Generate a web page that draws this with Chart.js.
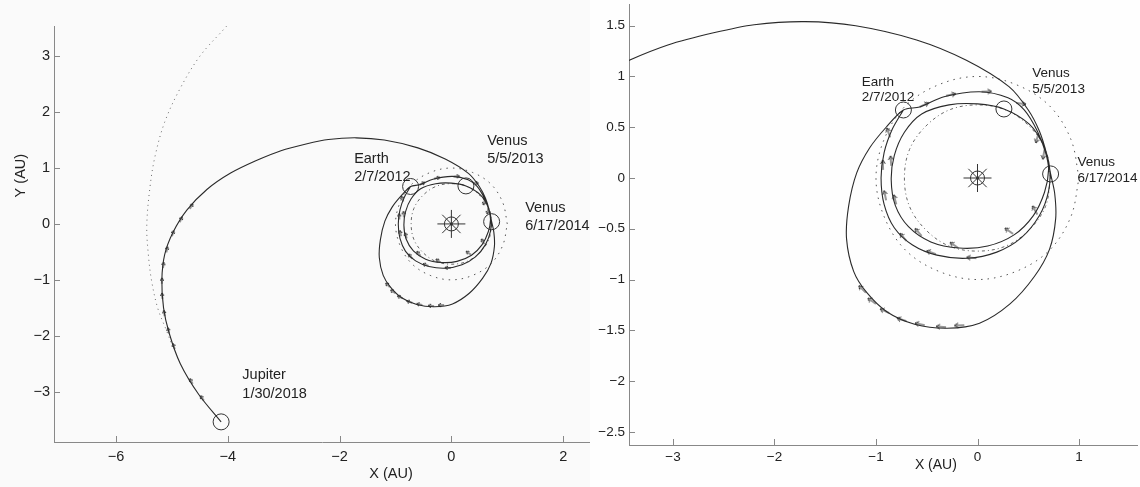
<!DOCTYPE html>
<html>
<head>
<meta charset="utf-8">
<script src="https://cdn.jsdelivr.net/npm/chart.js@4.4.1/dist/chart.umd.min.js"></script>
<style>
  body { margin: 0; background: #fff; }
  #wrap { position: relative; width: 1140px; height: 487px; }
  canvas { position: absolute; top: 0; }
  #full { left: 0; background: #fafafa; }
  #zoom { left: 590px; background: #fefefe; }
</style>
</head>
<body>
<div id="wrap">
  <canvas id="full" width="590" height="487"></canvas>
  <canvas id="zoom" width="550" height="487"></canvas>
</div>
<script>
// heliocentric positions, AU

const earthOrbitX = [1, 0.92, 0.71, 0.38, 0, -0.38, -0.71, -0.92, -1, -0.92, -0.71, -0.38, 0, 0.38, 0.71, 0.92, 1];
const earthOrbitY = [0, 0.38, 0.71, 0.92, 1, 0.92, 0.71, 0.38, 0, -0.38, -0.71, -0.92, -1, -0.92, -0.71, -0.38, 0];

const venusOrbitX = [0.72, 0.67, 0.51, 0.28, 0, -0.28, -0.51, -0.67, -0.72, -0.67, -0.51, -0.28, 0, 0.28, 0.51, 0.67, 0.72];
const venusOrbitY = [0, 0.28, 0.51, 0.67, 0.72, 0.67, 0.51, 0.28, 0, -0.28, -0.51, -0.67, -0.72, -0.67, -0.51, -0.28, 0];

const jupiterOrbitX = [-3.85, -4.02, -4.50, -4.86, -5.13, -5.30, -5.39, -5.45, -5.42, -5.36, -5.25, -5.10, -4.98];
const jupiterOrbitY = [3.75, 3.54, 3.00, 2.41, 1.82, 1.22, 0.68, -0.03, -0.57, -1.04, -1.52, -1.90, -2.22];

// spacecraft trajectory: Earth, two inner loops, Earth, outer loop, Venus, cruise to Jupiter
const pathX = [
  -0.73, -0.84, -0.92, -0.95, -0.92, -0.82, -0.64, -0.40, -0.10, 0.19, 0.43, 0.61, 0.70, 0.71, 0.65, 0.51,
  0.26, 0.00, -0.28, -0.55, -0.72, -0.82, -0.85, -0.81, -0.68, -0.46, -0.18, 0.10, 0.36, 0.55, 0.66, 0.70,
  0.67, 0.59, 0.46, 0.30, 0.02, -0.33, -0.57, -0.73,
  -0.90, -1.06, -1.19, -1.27, -1.29, -1.22, -1.09, -0.89, -0.62, -0.30, 0.02, 0.32, 0.56, 0.71, 0.77, 0.76,
  0.72, 0.68, 0.61, 0.50, 0.31, -0.11, -0.60, -1.20, -1.70, -2.20, -2.60, -3.05, -3.50, -3.95, -4.37, -4.73,
  -4.98, -5.13, -5.18, -5.15, -5.05, -4.85, -4.52, -4.12
];
const pathY = [
  0.67, 0.48, 0.25, 0.00, -0.26, -0.49, -0.66, -0.76, -0.79, -0.73, -0.59, -0.37, -0.13, 0.10, 0.32, 0.53,
  0.68, 0.73, 0.72, 0.63, 0.45, 0.22, -0.02, -0.27, -0.48, -0.63, -0.69, -0.67, -0.56, -0.37, -0.14, 0.08,
  0.25, 0.46, 0.67, 0.79, 0.85, 0.80, 0.70, 0.67,
  0.50, 0.30, 0.05, -0.28, -0.60, -0.92, -1.13, -1.32, -1.44, -1.48, -1.43, -1.24, -0.97, -0.70, -0.40, -0.15,
  0.04, 0.24, 0.46, 0.67, 0.90, 1.16, 1.36, 1.50, 1.54, 1.51, 1.43, 1.31, 1.13, 0.91, 0.62, 0.25,
  -0.15, -0.55, -1.00, -1.50, -1.95, -2.50, -3.05, -3.54
];

// thrust arrows: position and screen direction (degrees, clockwise from +x)
const thrustX = [
  -4.68, -4.86, -5.00, -5.10, -5.16, -5.18, -5.17, -5.13, -5.05, -4.95, -4.63, -4.43,
  -1.10, -1.00, -0.87, -0.70, -0.52, -0.31, -0.13,
  -0.86, -0.93, -0.85, -0.80, -0.90, -0.70, -0.55, -0.41, -0.19, -0.01, 0.35, 0.59,
  -0.57, -0.31, 0.04, 0.38, 0.60, 0.66
];
const thrustY = [
  0.27, 0.03, -0.22, -0.51, -0.79, -1.07, -1.34, -1.65, -1.96, -2.24, -2.86, -3.16,
  -1.13, -1.24, -1.33, -1.41, -1.45, -1.47, -1.45,
  0.40, 0.08, 0.12, -0.26, -0.22, -0.62, -0.57, -0.75, -0.69, -0.79, -0.55, -0.36,
  0.70, 0.81, 0.85, 0.74, 0.44, 0.28
];
const thrustDir = [
  300, 292, 288, 282, 277, 272, 266, 262, 257, 252, 242, 236,
  225, 215, 205, 198, 192, 185, 178,
  250, 268, 266, 255, 258, 230, 228, 200, 215, 185, 215, 240,
  335, 348, 358, 8, 105, 100
];

// planetary encounters
const bodyNames = ['Earth', 'Venus', 'Venus', 'Jupiter'];
const bodyDates = ['2/7/2012', '5/5/2013', '6/17/2014', '1/30/2018'];
const bodyX = [-0.73, 0.26, 0.72, -4.12];
const bodyY = [0.67, 0.68, 0.04, -3.54];

const sunX = [0];
const sunY = [0];

const fullXTicks = [-6, -4, -2, 0, 2];
const fullYTicks = [-3, -2, -1, 0, 1, 2, 3];
const zoomXTicks = [-3, -2, -1, 0, 1];
const zoomYTicks = [-2.5, -2, -1.5, -1, -0.5, 0, 0.5, 1, 1.5];

const pts = (xs, ys) => xs.map((x, i) => ({ x, y: ys[i] }));
const minus = v => String(v).replace('-', '\u2212');
const FONT = '"Liberation Sans", Arial, sans-serif';
const INK = '#222';

function arrowSprite(len, head) {
  const c = document.createElement('canvas');
  c.width = len * 2 + 2;
  c.height = head * 2 + 2;
  const g = c.getContext('2d');
  const cy = c.height / 2;
  const cx = c.width / 2;
  g.strokeStyle = '#333';
  g.lineWidth = 1;
  g.beginPath();
  g.moveTo(cx, cy);
  g.lineTo(cx + len, cy);
  g.moveTo(cx + len - head, cy - head * 0.6);
  g.lineTo(cx + len, cy);
  g.lineTo(cx + len - head, cy + head * 0.6);
  g.stroke();
  return c;
}

// inward tick marks, MATLAB style
const innerTicks = {
  id: 'innerTicks',
  afterDatasetsDraw(chart, args, opts) {
    const { ctx, chartArea: a, scales: { x, y } } = chart;
    ctx.save();
    ctx.strokeStyle = '#888';
    ctx.lineWidth = 1;
    ctx.beginPath();
    x.ticks.forEach(t => {
      const px = Math.round(x.getPixelForValue(t.value)) + 0.5;
      ctx.moveTo(px, a.bottom);
      ctx.lineTo(px, a.bottom - opts.len);
    });
    y.ticks.forEach(t => {
      const py = Math.round(y.getPixelForValue(t.value)) + 0.5;
      ctx.moveTo(a.left, py);
      ctx.lineTo(a.left + opts.len, py);
    });
    ctx.stroke();
    ctx.restore();
  }
};

// encounter labels and axis titles
const annotate = {
  id: 'annotate',
  afterDatasetsDraw(chart, args, opts) {
    const { ctx, chartArea: a, scales: { x, y } } = chart;
    ctx.save();
    ctx.fillStyle = INK;
    ctx.textBaseline = 'middle';
    ctx.textAlign = 'left';
    ctx.font = opts.labelSize + 'px ' + FONT;
    opts.spots.forEach((s, i) => {
      if (!s) return;
      const px = x.getPixelForValue(s[0]);
      const py = y.getPixelForValue(s[1]);
      ctx.fillText(bodyNames[i], px, py);
      ctx.fillText(bodyDates[i], px, py + opts.gap);
    });
    ctx.font = opts.titleSize + 'px ' + FONT;
    ctx.textAlign = 'center';
    if (opts.xTitle) {
      ctx.fillText(opts.xTitle.text, x.getPixelForValue(opts.xTitle.at), a.bottom + opts.xTitle.offset);
    }
    if (opts.yTitle) {
      ctx.translate(a.left - opts.yTitle.offset, y.getPixelForValue(opts.yTitle.at));
      ctx.rotate(-Math.PI / 2);
      ctx.fillText(opts.yTitle.text, 0, 0);
    }
    ctx.restore();
  }
};

function datasets(arrow) {
  return [
    { data: pts(pathX, pathY), showLine: true, borderColor: '#2a2a2a', borderWidth: 1.1,
      pointRadius: 0, tension: 0.3 },
    { data: pts(earthOrbitX, earthOrbitY), showLine: true, borderColor: '#555', borderWidth: 1,
      borderDash: [1.5, 5], pointRadius: 0, tension: 0.35 },
    { data: pts(venusOrbitX, venusOrbitY), showLine: true, borderColor: '#666', borderWidth: 1,
      borderDash: [3, 3, 1, 3], pointRadius: 0, tension: 0.35 },
    { data: pts(jupiterOrbitX, jupiterOrbitY), showLine: true, borderColor: '#666', borderWidth: 1,
      borderDash: [1, 4], pointRadius: 0, tension: 0.35 },
    { data: pts(thrustX, thrustY), pointStyle: arrow, pointRotation: thrustDir, pointRadius: 3 },
    { data: pts(bodyX, bodyY), pointStyle: 'circle', pointRadius: 8, pointBorderWidth: 1,
      pointBorderColor: '#333', pointBackgroundColor: 'rgba(0,0,0,0)' },
    { data: pts(sunX, sunY), pointStyle: 'circle', pointRadius: 7, pointBorderWidth: 1,
      pointBorderColor: '#333', pointBackgroundColor: 'rgba(0,0,0,0)' },
    { data: pts(sunX, sunY), pointStyle: 'cross', pointRadius: 14, pointBorderWidth: 1, pointBorderColor: '#333' },
    { data: pts(sunX, sunY), pointStyle: 'crossRot', pointRadius: 13, pointBorderWidth: 1, pointBorderColor: '#333' },
    { data: pts(sunX, sunY), pointStyle: 'circle', pointRadius: 1.5, pointBorderWidth: 0, pointBackgroundColor: '#222' }
  ];
}

function axis(min, max, ticks, thick, pad, fontSize) {
  return {
    type: 'linear', min, max,
    grid: { display: false, drawTicks: false },
    border: { display: true, color: '#888', width: 1 },
    ticks: { autoSkip: false, padding: pad, color: INK, font: { family: FONT, size: fontSize },
      callback: minus },
    afterBuildTicks: s => { s.ticks = ticks.map(value => ({ value })); },
    afterFit: s => {
      if (s.isHorizontal()) s.height = thick; else s.width = thick;
      s.paddingLeft = s.paddingRight = s.paddingTop = s.paddingBottom = 0;
    }
  };
}

function panel(id, cfg) {
  new Chart(document.getElementById(id), {
    type: 'scatter',
    data: { datasets: datasets(cfg.arrow) },
    options: {
      responsive: false, animation: false, devicePixelRatio: 1, events: [],
      // fixed plot box: the sun marker must not push the axes inward
      layout: { padding: cfg.padding, autoPadding: false },
      plugins: { legend: { display: false }, tooltip: { enabled: false },
        innerTicks: { len: 6 }, annotate: cfg.notes },
      scales: { x: cfg.x, y: cfg.y }
    },
    plugins: [innerTicks, annotate]
  });
}

panel('full', {
  arrow: arrowSprite(6, 3),
  padding: { top: 26, right: 0, left: 0, bottom: 0 },
  x: axis(-7.11, 2.48, fullXTicks, 45, 6.3, 14.5),
  y: axis(-3.90, 3.54, fullYTicks, 54, 4, 14.5),
  notes: {
    labelSize: 14.5, titleSize: 14.5, gap: 18.5,
    spots: [[-1.74, 1.17], [0.64, 1.49], [1.32, 0.29], [-3.74, -2.71]],
    xTitle: { text: 'X (AU)', at: -1.08, offset: 32 },
    yTitle: { text: 'Y (AU)', at: 0.864, offset: 33 }
  }
});

panel('zoom', {
  arrow: arrowSprite(10, 4),
  padding: { top: 4, right: 3, left: 0, bottom: 0 },
  x: axis(-3.433, 1.571, zoomXTicks, 42, 3.9, 13.5),
  y: axis(-2.63, 1.714, zoomYTicks, 39, 4, 13.5),
  notes: {
    labelSize: 13.5, titleSize: 14, gap: 15.5,
    spots: [[-1.14, 0.946], [0.54, 1.03], [0.985, 0.15], null],
    xTitle: { text: 'X (AU)', at: -0.41, offset: 20 }
  }
});
</script>
</body>
</html>
